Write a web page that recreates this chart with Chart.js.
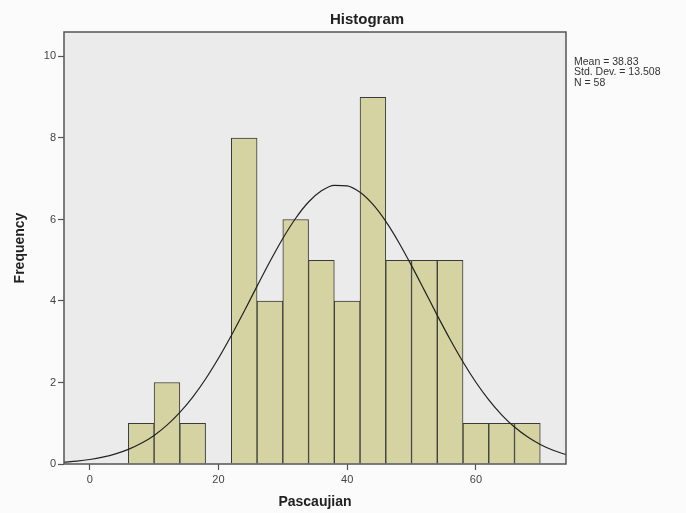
<!DOCTYPE html>
<html>
<head>
<meta charset="utf-8">
<script src="https://cdn.jsdelivr.net/npm/chart.js@4/dist/chart.umd.min.js"></script>
<style>
  html, body { margin: 0; padding: 0; background: #fbfbfb; }
  #wrap { width: 686px; height: 513px; }
</style>
</head>
<body>
<div id="wrap"><canvas id="chart_hist"></canvas></div>
<script>
// histogram bins (centres, width 4) and counts
const binCenters = [8, 12, 16, 20, 24, 28, 32, 36, 40, 44, 48, 52, 56, 60, 64, 68];
const binCounts  = [1, 2, 1, 0, 8, 4, 6, 5, 4, 9, 5, 5, 5, 1, 1, 1];

// normal curve
const curveX = [-4, -2, 0, 2, 4, 6, 8, 10, 12, 14, 16, 18, 20, 22, 24, 26, 28, 30, 32, 34, 36, 38,
                40, 42, 44, 46, 48, 50, 52, 54, 56, 58, 60, 62, 64, 66, 68, 70, 72, 74];
const curveY = [0.045, 0.071, 0.110, 0.167, 0.247, 0.358, 0.507, 0.702, 0.953, 1.265, 1.642, 2.086,
                2.594, 3.153, 3.750, 4.364, 4.969, 5.534, 6.030, 6.428, 6.703, 6.839, 6.826, 6.666,
                6.368, 5.952, 5.442, 4.868, 4.260, 3.647, 3.055, 2.503, 2.006, 1.574, 1.207, 0.906,
                0.666, 0.478, 0.336, 0.231];

const xTicks = [0, 20, 40, 60];
const yTicks = [0, 2, 4, 6, 8, 10];
const statsLines = ['Mean = 38.83', 'Std. Dev. = 13.508', 'N = 58'];

const FONT = '"Liberation Sans", Arial, sans-serif';

const decorations = {
  id: 'decorations',
  beforeDraw(chart) {
    const ctx = chart.ctx;
    const a = chart.chartArea;
    ctx.save();
    ctx.fillStyle = '#fbfbfb';
    ctx.fillRect(0, 0, chart.width, chart.height);
    ctx.fillStyle = '#ebebeb';
    ctx.fillRect(a.left, a.top, a.right - a.left, a.bottom - a.top);
    ctx.restore();
  },
  afterDraw(chart) {
    const ctx = chart.ctx;
    const a = chart.chartArea;
    ctx.save();
    ctx.strokeStyle = '#555555';
    ctx.lineWidth = 1.5;
    ctx.strokeRect(a.left, a.top, a.right - a.left, a.bottom - a.top);

    ctx.fillStyle = '#222222';
    ctx.textAlign = 'center';
    ctx.textBaseline = 'middle';
    ctx.font = 'bold 15px ' + FONT;
    ctx.fillText('Histogram', 367, 20);

    ctx.font = 'bold 14px ' + FONT;
    ctx.fillText('Pascaujian', (a.left + a.right) / 2, 502);

    ctx.save();
    ctx.translate(20, (a.top + a.bottom) / 2);
    ctx.rotate(-Math.PI / 2);
    ctx.fillText('Frequency', 0, 0);
    ctx.restore();

    ctx.font = '10.5px ' + FONT;
    ctx.textAlign = 'left';
    ctx.fillStyle = '#333333';
    statsLines.forEach((s, i) => ctx.fillText(s, 574, 62 + i * 10.5));
    ctx.restore();
  }
};

new Chart(document.getElementById('chart_hist'), {
  type: 'bar',
  data: {
    datasets: [
      {
        type: 'line',
        data: curveX.map((x, i) => ({ x: x, y: curveY[i] })),
        borderColor: '#222222',
        borderWidth: 1.2,
        pointRadius: 0,
        fill: false,
        cubicInterpolationMode: 'monotone',
        order: 0
      },
      {
        type: 'bar',
        data: binCenters.map((x, i) => ({ x: x, y: binCounts[i] })),
        backgroundColor: 'rgb(214,211,163)',
        borderColor: '#3a3a3a',
        borderWidth: 1,
        barPercentage: 1,
        categoryPercentage: 1,
        order: 1
      }
    ]
  },
  options: {
    responsive: true,
    maintainAspectRatio: false,
    animation: false,
    layout: { padding: { top: 32, right: 120, left: 0, bottom: 0 } },
    plugins: {
      legend: { display: false },
      tooltip: { enabled: false }
    },
    scales: {
      x: {
        type: 'linear',
        min: -4,
        max: 74,
        offset: false,
        afterBuildTicks: (scale) => { scale.ticks = xTicks.map(v => ({ value: v })); },
        afterFit: (scale) => { scale.height = 49; },
        ticks: { color: '#444444', font: { family: FONT, size: 11 }, padding: 3 },
        grid: { offset: false, drawOnChartArea: false, tickLength: 6, color: '#555555', tickWidth: 1.2 },
        border: { display: false }
      },
      y: {
        min: 0,
        max: 10.6,
        afterBuildTicks: (scale) => { scale.ticks = yTicks.map(v => ({ value: v })); },
        afterFit: (scale) => { scale.width = 64; },
        ticks: { color: '#444444', font: { family: FONT, size: 11 }, padding: 2 },
        grid: { drawOnChartArea: false, tickLength: 6, color: '#555555', tickWidth: 1.2 },
        border: { display: false }
      }
    }
  },
  plugins: [decorations]
});
</script>
</body>
</html>
